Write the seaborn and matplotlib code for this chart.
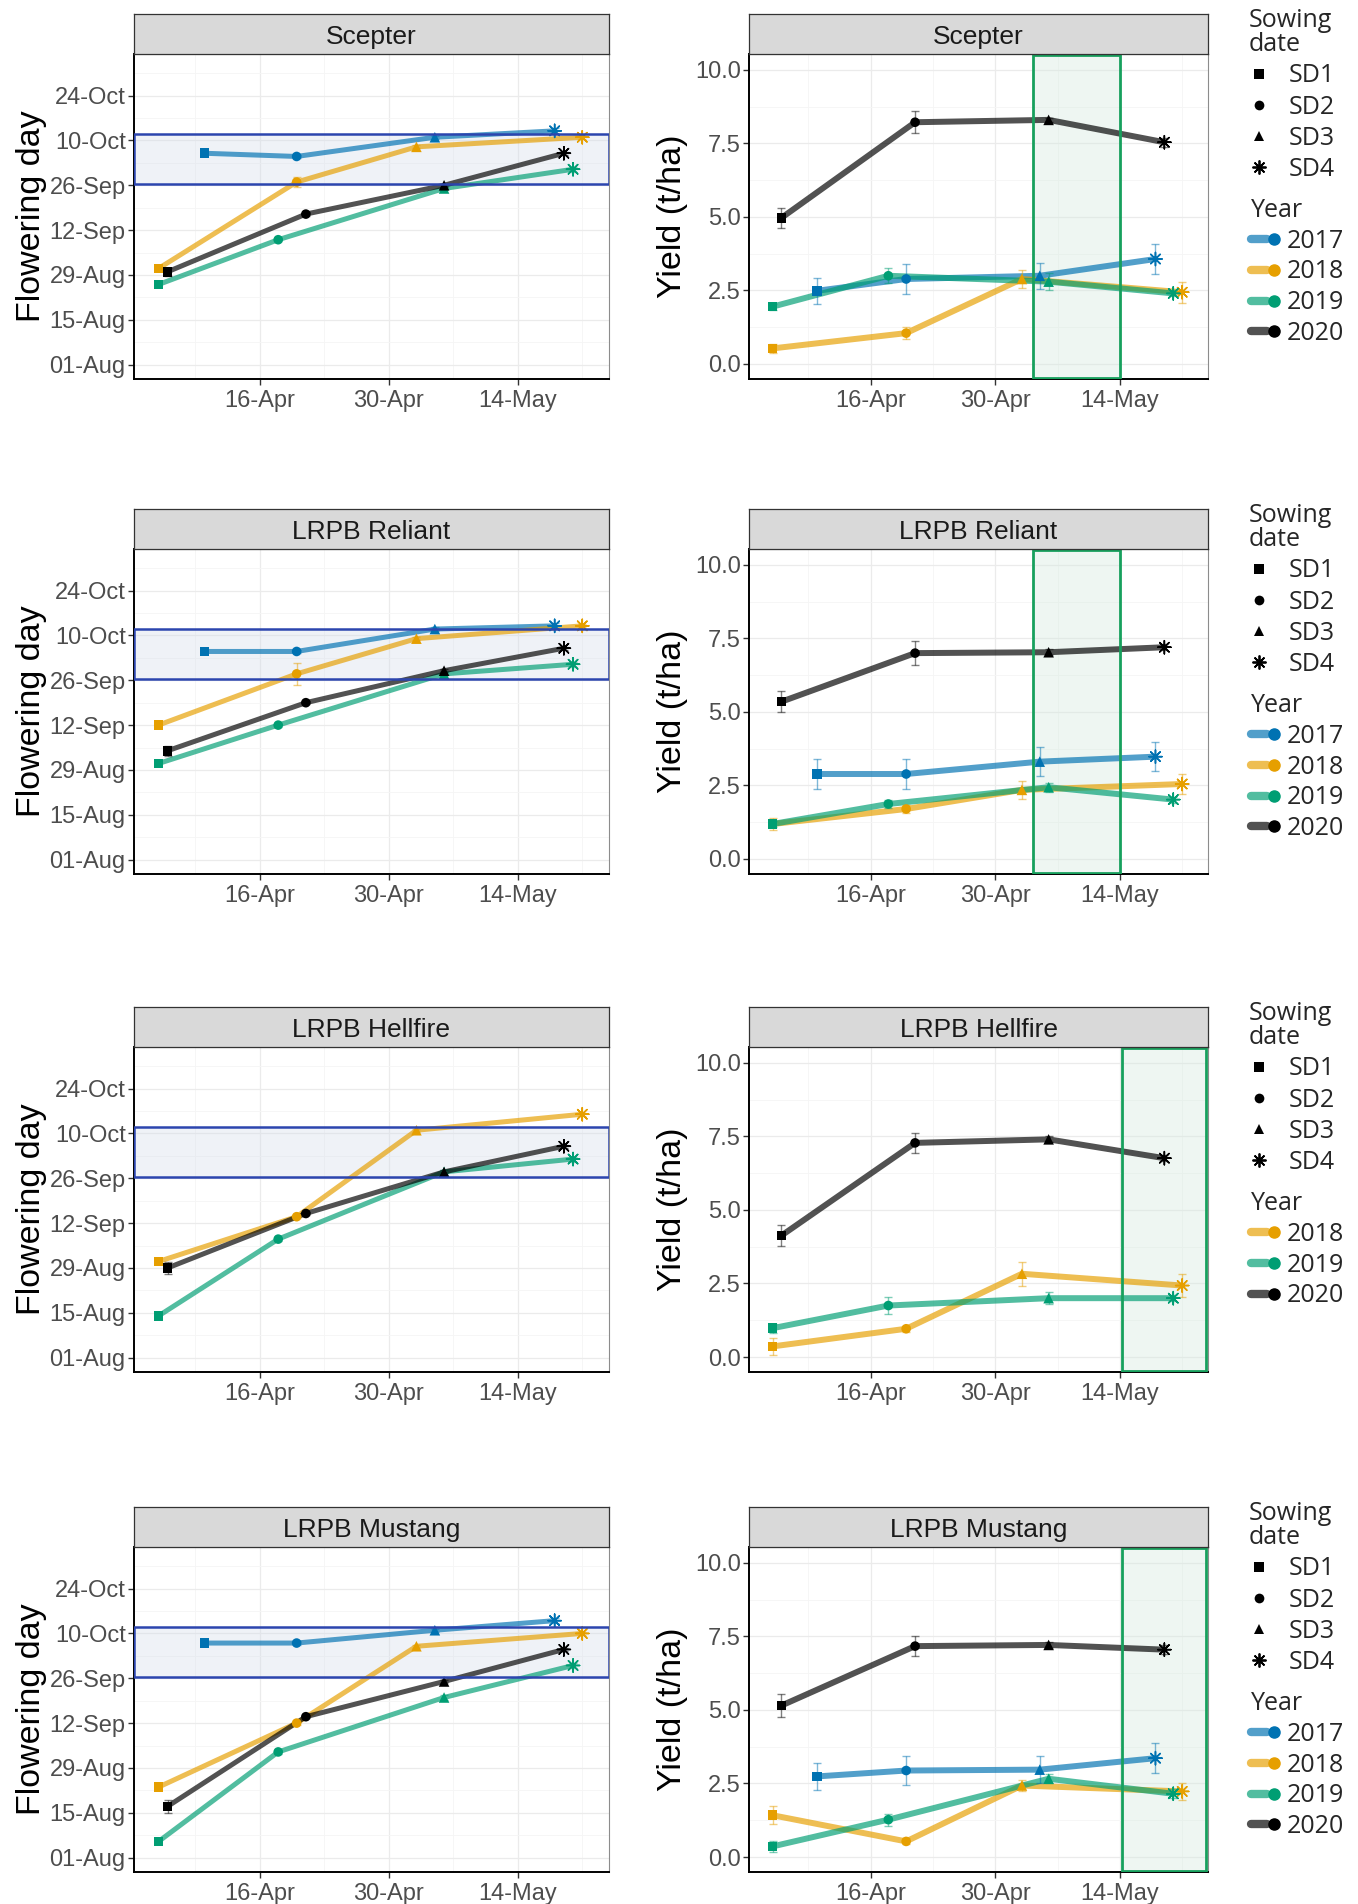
import matplotlib
matplotlib.use("Agg")
import numpy as np
import pandas as pd
import matplotlib.pyplot as plt
import matplotlib.dates as mdates
from matplotlib.lines import Line2D
from matplotlib.legend_handler import HandlerTuple
from matplotlib.font_manager import FontProperties
import seaborn as sns

sns.set_theme(style="white")
plt.rcParams["font.family"] = ["Liberation Sans", "DejaVu Sans"]

# ---------------- data ----------------
cultivars = ["Scepter", "LRPB Reliant", "LRPB Hellfire", "LRPB Mustang"]
years = ["2017", "2018", "2019", "2020"]
sowing_dates = ["SD1", "SD2", "SD3", "SD4"]

# sowing dates (MM-DD) per year
sowing = {
    "2017": ["04-10", "04-20", "05-05", "05-18"],
    "2018": ["04-05", "04-20", "05-03", "05-21"],
    "2019": ["04-05", "04-18", "05-06", "05-20"],
    "2020": ["04-06", "04-21", "05-06", "05-19"],
}

# flowering dates (MM-DD)
flower_scepter = {
    "2017": ["10-06", "10-05", "10-11", "10-13"],
    "2018": ["08-31", "09-27", "10-08", "10-11"],
    "2019": ["08-26", "09-09", "09-25", "10-01"],
    "2020": ["08-30", "09-17", "09-26", "10-06"],
}
flower_reliant = {
    "2017": ["10-05", "10-05", "10-12", "10-13"],
    "2018": ["09-12", "09-28", "10-09", "10-13"],
    "2019": ["08-31", "09-12", "09-28", "10-01"],
    "2020": ["09-04", "09-19", "09-29", "10-06"],
}
flower_hellfire = {
    "2018": ["08-31", "09-14", "10-11", "10-16"],
    "2019": ["08-14", "09-07", "09-28", "10-02"],
    "2020": ["08-29", "09-15", "09-28", "10-06"],
}
flower_mustang = {
    "2017": ["10-07", "10-07", "10-11", "10-14"],
    "2018": ["08-23", "09-12", "10-06", "10-10"],
    "2019": ["08-06", "09-03", "09-20", "09-30"],
    "2020": ["08-17", "09-14", "09-25", "10-05"],
}
# flowering standard errors (days)
flower_err_scepter = {"2017": [0.5, 0.5, 0.5, 0.8], "2018": [0.8, 1.5, 0.5, 0.5],
                      "2019": [0.5, 0.5, 0.5, 0.8], "2020": [1.2, 0.5, 0.5, 0.5]}
flower_err_reliant = {"2017": [0.5, 0.5, 0.5, 0.8], "2018": [0.5, 3.5, 0.5, 0.5],
                      "2019": [0.5, 0.5, 0.5, 0.8], "2020": [1.5, 0.5, 0.5, 0.5]}
flower_err_hellfire = {"2018": [0.8, 0.5, 0.5, 0.5],
                       "2019": [0.5, 0.5, 0.5, 0.8], "2020": [2.0, 0.5, 0.5, 0.5]}
flower_err_mustang = {"2017": [0.5, 0.5, 0.5, 0.8], "2018": [0.5, 0.5, 0.5, 0.5],
                      "2019": [0.5, 0.5, 0.8, 0.8], "2020": [2.0, 0.5, 0.5, 0.5]}

# grain yield (t/ha) and standard errors
yield_scepter = {"2017": [2.49, 2.89, 3.00, 3.57], "2018": [0.53, 1.05, 2.89, 2.44],
                 "2019": [1.95, 3.00, 2.80, 2.40], "2020": [4.97, 8.22, 8.30, 7.54]}
yield_reliant = {"2017": [2.89, 2.89, 3.31, 3.48], "2018": [1.19, 1.70, 2.35, 2.55],
                 "2019": [1.19, 1.87, 2.44, 2.02], "2020": [5.35, 7.00, 7.03, 7.20]}
yield_hellfire = {"2018": [0.36, 0.96, 2.83, 2.43],
                  "2019": [0.98, 1.75, 2.00, 2.00], "2020": [4.13, 7.28, 7.40, 6.76]}
yield_mustang = {"2017": [2.74, 2.94, 2.97, 3.36], "2018": [1.42, 0.53, 2.43, 2.23],
                 "2019": [0.36, 1.27, 2.66, 2.15], "2020": [5.15, 7.17, 7.21, 7.05]}
yield_err_scepter = {"2017": [0.45, 0.50, 0.45, 0.50], "2018": [0.15, 0.20, 0.30, 0.35],
                     "2019": [0.10, 0.25, 0.30, 0.10], "2020": [0.35, 0.37, 0.06, 0.15]}
yield_err_reliant = {"2017": [0.50, 0.50, 0.50, 0.50], "2018": [0.20, 0.15, 0.30, 0.35],
                     "2019": [0.10, 0.15, 0.15, 0.10], "2020": [0.35, 0.40, 0.10, 0.10]}
yield_err_hellfire = {"2018": [0.30, 0.10, 0.40, 0.40],
                      "2019": [0.15, 0.30, 0.20, 0.10], "2020": [0.35, 0.35, 0.10, 0.10]}
yield_err_mustang = {"2017": [0.45, 0.50, 0.45, 0.50], "2018": [0.30, 0.10, 0.20, 0.30],
                     "2019": [0.20, 0.20, 0.15, 0.15], "2020": [0.40, 0.35, 0.10, 0.15]}

flower = dict(zip(cultivars, [flower_scepter, flower_reliant, flower_hellfire, flower_mustang]))
flower_err = dict(zip(cultivars, [flower_err_scepter, flower_err_reliant, flower_err_hellfire, flower_err_mustang]))
yld = dict(zip(cultivars, [yield_scepter, yield_reliant, yield_hellfire, yield_mustang]))
yld_err = dict(zip(cultivars, [yield_err_scepter, yield_err_reliant, yield_err_hellfire, yield_err_mustang]))

# highlighted windows
flower_window = ["09-26", "10-12"]           # optimal flowering window
yield_window = {"Scepter": ["05-04", "05-14"], "LRPB Reliant": ["05-04", "05-14"],
                "LRPB Hellfire": ["05-14", None], "LRPB Mustang": ["05-14", None]}

x_ticks = ["04-16", "04-30", "05-14"]
y_ticks_flower = ["08-01", "08-15", "08-29", "09-12", "09-26", "10-10", "10-24"]
y_ticks_yield = [0.0, 2.5, 5.0, 7.5, 10.0]

palette = {"2017": "#0072B2", "2018": "#E69F00", "2019": "#009E73", "2020": "#000000"}
markers = {"SD1": "s", "SD2": "o", "SD3": "^", "SD4": (8, 2, 0)}

# ---------------- helpers ----------------
def dnum(md):
    return mdates.date2num(pd.Timestamp("2021-" + md))

rows = []
for cv in cultivars:
    for yr in years:
        if yr not in flower[cv]:
            continue
        for k, sd in enumerate(sowing_dates):
            rows.append(dict(cultivar=cv, Year=yr, SD=sd,
                             sow=dnum(sowing[yr][k]),
                             flower=dnum(flower[cv][yr][k]),
                             flower_err=flower_err[cv][yr][k],
                             yld=yld[cv][yr][k], yld_err=yld_err[cv][yr][k]))
df = pd.DataFrame(rows)

W, H = 1358, 1904
fig = plt.figure(figsize=(W / 100, H / 100), dpi=100)

def add_ax(x0, top, w, h):
    return fig.add_axes([x0 / W, 1 - (top + h) / H, w / W, h / H])

row_tops = [14, 509, 1007, 1507]
strip_h, panel_h = 40, 325
LX, LW = 134, 475
RX, RW = 749, 459

xlim = (dnum("04-02") + 0.35, dnum("05-23") + 0.9)
ylim_f = (dnum("08-01") - 4.5, dnum("08-01") + 97)
ylim_y = (-0.51, 10.54)

tick_col = "#4D4D4D"
leg_font = FontProperties(family=["Open Sans", "DejaVu Sans"], size=18)


def style_axes(ax):
    ax.set_facecolor("white")
    ax.set_axisbelow(True)
    ax.grid(which="major", color="#EBEBEB", lw=0.9)
    ax.grid(which="minor", color="#F5F5F5", lw=0.6)
    for s in ["left", "bottom"]:
        ax.spines[s].set_color("black")
        ax.spines[s].set_linewidth(1.4)
    for s in ["top", "right"]:
        ax.spines[s].set_color("#8C8C8C")
        ax.spines[s].set_linewidth(0.8)
    ax.tick_params(axis="both", which="major", labelsize=17, labelcolor=tick_col,
                   color="#333333", length=4, width=1, pad=2, left=True, bottom=True)
    ax.tick_params(axis="x", which="major", pad=4)
    ax.tick_params(axis="both", which="minor", length=0)
    ax.set_xlim(*xlim)
    ax.set_xticks([dnum(t) for t in x_ticks])
    ax.set_xticks([dnum(t) - 7 for t in x_ticks] + [dnum(x_ticks[-1]) + 7], minor=True)
    ax.xaxis.set_major_formatter(mdates.DateFormatter("%d-%b"))


def add_strip(x0, top, w, label):
    sax = add_ax(x0, top, w, strip_h)
    sax.set_facecolor("#D9D9D9")
    sax.set_xticks([])
    sax.set_yticks([])
    for sp in sax.spines.values():
        sp.set_color("#333333")
        sp.set_linewidth(0.9)
    sax.text(0.5, 0.24, label, ha="center", va="baseline", fontsize=19,
             color="#1A1A1A", transform=sax.transAxes)


def draw_series(ax, sub, ycol, ecol, lw):
    present = [y for y in years if y in sub["Year"].unique()]
    sns.lineplot(data=sub, x="sow", y=ycol, hue="Year", hue_order=present,
                 palette=palette, linewidth=lw, alpha=0.68, legend=False,
                 estimator=None, sort=True, ax=ax, zorder=2)
    for yr in present:
        s = sub[sub["Year"] == yr]
        ax.errorbar(s["sow"], s[ycol], yerr=s[ecol], fmt="none", ecolor=palette[yr],
                    elinewidth=1.0, capsize=3, alpha=0.5, zorder=2.5)
    for sd in sowing_dates:
        s = sub[sub["SD"] == sd]
        m = markers[sd]
        if sd == "SD4":
            sns.scatterplot(data=s, x="sow", y=ycol, hue="Year", hue_order=present,
                            palette=palette, marker=m, s=90, linewidth=1.1,
                            legend=False, ax=ax, zorder=3)
        else:
            sns.scatterplot(data=s, x="sow", y=ycol, hue="Year", hue_order=present,
                            palette=palette, marker=m, s=48 if sd != "SD3" else 58,
                            linewidth=0, edgecolor="none", legend=False, ax=ax, zorder=3)
    ax.set_xlabel("")


for i, cv in enumerate(cultivars):
    top = row_tops[i]
    sub = df[df["cultivar"] == cv]

    # ---------- flowering panel ----------
    axL = add_ax(LX, top + strip_h, LW, panel_h)
    style_axes(axL)
    axL.set_ylim(*ylim_f)
    axL.set_yticks([dnum(t) for t in y_ticks_flower])
    axL.set_yticks([dnum(t) + 7 for t in y_ticks_flower], minor=True)
    axL.yaxis.set_major_formatter(mdates.DateFormatter("%d-%b"))
    axL.axhspan(dnum(flower_window[0]) + 0.25, dnum(flower_window[1]),
                facecolor="#D3DAEA", alpha=0.35, edgecolor="none", zorder=1)
    draw_series(axL, sub, "flower", "flower_err", 3.6)
    axL.axhspan(dnum(flower_window[0]) + 0.25, dnum(flower_window[1]),
                facecolor="none", edgecolor="#2C45AE", lw=1.8, zorder=4)
    axL.set_ylabel("Flowering day", fontsize=24.5, color="black")
    axL.yaxis.set_label_coords((47 - LX) / LW, 0.5)
    add_strip(LX, top, LW, cv)

    # ---------- yield panel ----------
    axR = add_ax(RX, top + strip_h, RW, panel_h)
    style_axes(axR)
    axR.set_ylim(*ylim_y)
    axR.set_yticks(y_ticks_yield)
    axR.set_yticks([v + 1.25 for v in y_ticks_yield[:-1]], minor=True)
    axR.yaxis.set_major_formatter(matplotlib.ticker.FormatStrFormatter("%.1f"))
    w0, w1 = yield_window[cv]
    x0 = dnum(w0) + 0.2
    x1 = dnum(w1) if w1 is not None else xlim[1] - 0.25
    axR.axvspan(x0, x1, facecolor="#D5EADF", alpha=0.4, edgecolor="none", zorder=1)
    draw_series(axR, sub, "yld", "yld_err", 4.3)
    axR.axvspan(x0, x1, ymin=0.004, ymax=0.998, facecolor="none", edgecolor="#17A05D",
                lw=2.0, zorder=4)
    axR.set_ylabel("Yield (t/ha)", fontsize=24.5, color="black")
    axR.yaxis.set_label_coords((688 - RX) / RW, 0.5)
    add_strip(RX, top, RW, cv)

    # ---------- legends ----------
    sd_handles = [Line2D([], [], ls="none", marker=markers[sd], color="black",
                         markersize=7 if sd != "SD4" else 10,
                         markeredgewidth=1.3 if sd == "SD4" else 0)
                  for sd in sowing_dates]
    leg1 = axR.legend(handles=sd_handles, labels=sowing_dates, title="Sowing\ndate",
                      loc="upper left", bbox_to_anchor=(1249 / W, 1 - (top - 6) / H),
                      bbox_transform=fig.transFigure, frameon=False, prop=leg_font,
                      title_fontproperties=leg_font, alignment="left",
                      handlelength=0.8, handletextpad=0.8, labelspacing=0.25,
                      borderpad=0, borderaxespad=0)
    leg1.get_title().set_linespacing(0.95)
    axR.add_artist(leg1)

    present = [y for y in years if y in sub["Year"].unique()]
    yr_handles = [(Line2D([], [], color=palette[y], lw=6, alpha=0.68),
                   Line2D([], [], ls="none", marker="o", color=palette[y], markersize=8))
                  for y in present]
    leg2 = axR.legend(handles=yr_handles, labels=present, title="Year",
                      loc="upper left", bbox_to_anchor=(1251 / W, 1 - (top + 184) / H),
                      bbox_transform=fig.transFigure, frameon=False, prop=leg_font,
                      title_fontproperties=leg_font, alignment="left",
                      handlelength=1.25, handletextpad=0.2, labelspacing=0.23,
                      borderpad=0, borderaxespad=0,
                      handler_map={tuple: HandlerTuple(ndivide=None)})

fig.savefig("out.png", dpi=100, facecolor="white")
